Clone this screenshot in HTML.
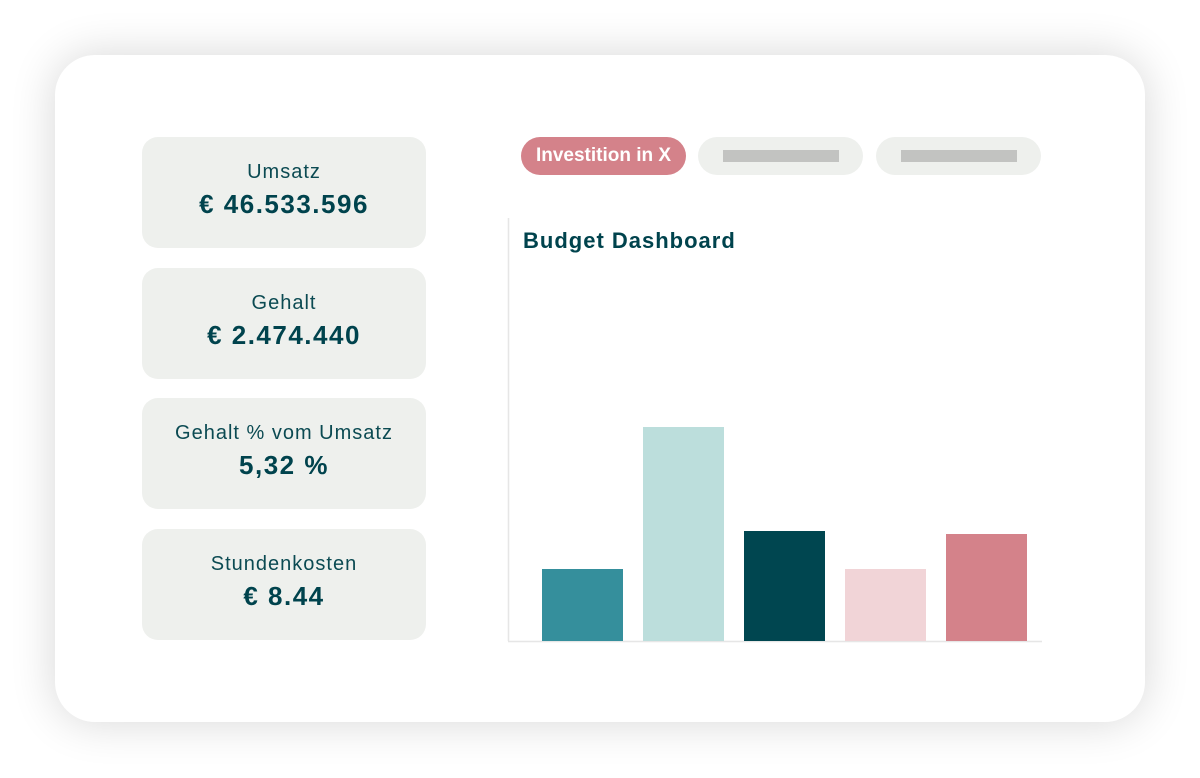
<!DOCTYPE html>
<html><head><meta charset="utf-8"><style>
body{margin:0;width:1200px;height:778px;background:#fff;font-family:"Liberation Sans",sans-serif;position:relative;overflow:hidden}
.card{position:absolute;left:55px;top:55px;width:1090px;height:667px;border-radius:40px;background:#fff;box-shadow:0 0 45px rgba(0,0,0,0.16)}
.kpi{position:absolute;left:142px;width:284px;height:111px;border-radius:16px;background:#eef0ed;color:#0b4a52;text-align:center}
.kpi .l{position:absolute;left:0;right:0;top:24px;font-size:20px;letter-spacing:1px}
.kpi .v{position:absolute;left:0;right:0;top:52px;font-size:26px;font-weight:bold;color:#00434d;letter-spacing:1.5px}
.pill{position:absolute;top:137px;height:38px;border-radius:19px}
.ph{position:absolute;top:13px;left:25px;width:116px;height:12px;background:#c2c3c1}
</style></head><body>
<div class="card"></div>
<div class="kpi" style="top:137px"><div class="l">Umsatz</div><div class="v">€ 46.533.596</div></div>
<div class="kpi" style="top:268px"><div class="l">Gehalt</div><div class="v">€ 2.474.440</div></div>
<div class="kpi" style="top:398px"><div class="l">Gehalt % vom Umsatz</div><div class="v">5,32 %</div></div>
<div class="kpi" style="top:529px"><div class="l">Stundenkosten</div><div class="v">€ 8.44</div></div>
<div class="pill" style="left:521px;width:165px;background:#d4828a;color:#fff;font-weight:bold;font-size:19px;line-height:38px;text-align:center">Investition in X</div>
<div class="pill" style="left:698px;width:165px;background:#eef0ed"><div class="ph"></div></div>
<div class="pill" style="left:876px;width:165px;background:#eef0ed"><div class="ph"></div></div>
<svg id="chart" width="1200" height="778" style="position:absolute;left:0;top:0">
<line x1="508.5" y1="218" x2="508.5" y2="641" stroke="#e6e6e6" stroke-width="1.5"/>
<line x1="508" y1="641.5" x2="1042" y2="641.5" stroke="#e6e6e6" stroke-width="1.5"/>
<text x="523" y="248" font-size="22" font-weight="bold" fill="#00434d" letter-spacing="1">Budget Dashboard</text>
</svg>
<script>
const categories=["A","B","C","D","E"];
const values=[72,214,110,72,107];
const colors=["#358f9c","#bcdedc","#004650","#f1d4d7","#d4828a"];
const svg=document.getElementById('chart');
function y(v){return 641-v*(423/423);}
function x(i){return 542+i*101;}
values.forEach((v,i)=>{
 const r=document.createElementNS('http://www.w3.org/2000/svg','rect');
 r.setAttribute('x',x(i));r.setAttribute('y',y(v));
 r.setAttribute('width',81);r.setAttribute('height',641-y(v));
 r.setAttribute('fill',colors[i]);
 
 
 svg.appendChild(r);
});
</script>
</body></html>
